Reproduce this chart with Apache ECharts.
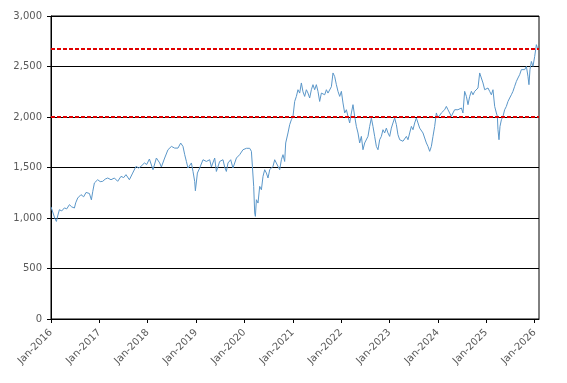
<!DOCTYPE html>
<html>
<head>
<meta charset="utf-8">
<script src="https://cdn.jsdelivr.net/npm/echarts@6/dist/echarts.min.js"></script>
<style>html,body{margin:0;padding:0;background:#fff}#c{width:567px;height:383px}</style>
</head>
<body>
<div id="c"></div>
<script>
// x = months since Jan-2016
var months = [0,0.42,0.92,1.34,1.66,2.08,2.66,3.33,3.90,4.57,5.14,5.81,6.13,6.63,7.44,8.11,8.69,9.53,10.02,10.35,10.77,11.59,12.21,12.83,13.45,14.07,14.89,15.73,16.55,17.37,18.04,18.61,19.45,20.27,21.09,21.76,22.33,23.18,23.75,24.42,24.91,25.31,26.15,26.97,27.39,28.21,29.03,29.88,30.69,31.51,32.18,32.75,33.18,33.60,33.99,34.84,35.24,35.66,35.83,36.33,36.90,37.72,38.56,39.38,39.80,40.62,41.04,41.86,42.68,43.10,43.52,43.92,44.59,45.16,46.01,46.82,47.64,48.49,49.31,49.73,49.98,50.30,50.55,50.72,50.97,51.37,51.79,52.21,52.61,53.03,53.45,53.85,54.27,55.09,55.51,55.93,56.75,57.17,57.57,57.99,58.24,58.81,59.23,59.65,60.05,60.47,60.89,61.29,61.71,62.13,62.53,62.95,63.37,63.77,64.19,64.61,65.01,65.43,65.85,66.25,66.67,67.10,67.49,67.92,68.34,68.73,69.16,69.58,69.98,70.40,70.82,71.22,71.64,72.06,72.46,72.88,73.30,73.70,74.12,74.54,74.94,75.36,75.78,76.18,76.60,77.02,77.42,77.84,78.26,78.66,79.08,79.50,79.90,80.32,80.74,81.14,81.56,81.98,82.38,82.80,83.22,83.62,84.04,84.46,84.86,85.28,85.71,86.10,86.53,86.95,87.34,87.77,88.19,88.59,89.01,89.43,89.83,90.25,90.67,91.07,91.49,91.91,92.31,92.73,93.15,93.55,93.97,94.39,94.79,95.21,95.63,96.03,96.45,96.87,97.27,97.69,98.11,98.51,98.93,99.35,99.75,100.17,100.60,100.99,101.41,101.84,102.23,102.65,103.08,103.48,103.90,104.32,104.72,105.14,105.56,105.96,106.38,106.80,107.20,107.62,108.04,108.44,108.86,109.28,109.68,110.10,110.52,110.77,110.92,111.17,111.42,111.77,112.16,112.58,113.00,113.40,113.82,114.24,114.64,115.06,115.49,115.88,116.30,116.73,117.12,117.55,117.97,118.36,118.61,118.86,119.21,119.60,120.03,120.45,120.85];
var values = [1110,1060,1000,966,1020,1082,1070,1100,1090,1132,1110,1099,1150,1198,1231,1210,1253,1243,1180,1260,1347,1379,1360,1363,1385,1396,1379,1396,1363,1412,1400,1429,1379,1445,1511,1495,1511,1545,1530,1584,1594,1478,1594,1545,1505,1594,1676,1709,1692,1692,1742,1709,1627,1560,1495,1545,1461,1362,1270,1445,1495,1577,1560,1577,1505,1594,1461,1560,1577,1505,1461,1545,1577,1495,1594,1627,1676,1690,1690,1660,1511,1313,1050,1016,1181,1148,1313,1280,1412,1478,1445,1396,1478,1511,1577,1560,1478,1577,1627,1560,1743,1842,1924,1973,2006,2154,2204,2270,2237,2337,2250,2204,2270,2237,2188,2270,2320,2270,2320,2254,2154,2237,2254,2220,2270,2237,2220,2300,2436,2400,2320,2254,2204,2254,2139,2040,2072,2006,1941,2040,2122,2006,1907,1842,1743,1808,1676,1743,1760,1808,1907,1990,1907,1808,1709,1676,1775,1808,1874,1842,1890,1842,1808,1890,1941,1990,1924,1825,1775,1792,1760,1775,1808,1775,1842,1907,1874,1941,1990,1941,1890,1907,1842,1792,1743,1709,1660,1709,1808,1907,2040,1990,1973,2040,2056,2072,2105,2072,2089,2006,2040,2072,2089,2072,2056,2089,2040,2254,2204,2122,2204,2254,2220,2254,2237,2287,2436,2419,2337,2270,2254,2287,2254,2220,2270,2105,2040,2006,1874,1775,1907,1973,2006,2072,2105,2154,2188,2220,2254,2304,2353,2386,2419,2469,2485,2469,2501,2403,2320,2469,2550,2501,2600,2716,2666];
var refLines = [2675, 2000];
var yearTicks = [0,12,24,36,48,60,72,84,96,108,120];
var tickYears = ['2016','2017','2018','2019','2020','2021','2022','2023','2024','2025','2026'];

var n = Math.min(months.length, values.length);
var data = [];
for (var i = 0; i < n; i++) data.push([months[i], values[i]]);

var chart = echarts.init(document.getElementById('c'), null, {renderer: 'canvas'});
var font = 'DejaVu Sans';
chart.setOption({
  animation: false,
  backgroundColor: '#ffffff',
  grid: {left: 51, right: 28, top: 16, bottom: 64, show: true, borderColor: '#000', borderWidth: 1, backgroundColor: 'transparent'},
  xAxis: {
    type: 'value', min: 0, max: 121.1, interval: 12,
    axisLine: {show: true, lineStyle: {color: '#000', width: 1}},
    axisTick: {show: true, length: 4, lineStyle: {color: '#000'}, customValues: yearTicks},
    splitLine: {show: false},
    axisLabel: {
      customValues: yearTicks,
      rotate: 45, margin: 12, color: '#595959', fontFamily: font, fontSize: 10,
      formatter: function (v) {
        var k = yearTicks.indexOf(Math.round(v));
        if (Math.abs(v - Math.round(v)) > 1e-6 || k < 0) return '';
        return 'Jan-' + tickYears[k];
      }
    }
  },
  yAxis: {
    type: 'value', min: 0, max: 3000, interval: 500,
    axisLine: {show: true, lineStyle: {color: '#000', width: 1}},
    axisTick: {show: true, length: 4, lineStyle: {color: '#000'}},
    splitLine: {show: true, lineStyle: {color: '#000', width: 1}},
    axisLabel: {
      margin: 9, color: '#595959', fontFamily: font, fontSize: 10,
      formatter: function (v) { return v.toString().replace(/\B(?=(\d{3})+(?!\d))/g, ','); }
    }
  },
  series: [{
    type: 'line', data: data, showSymbol: false, symbol: 'none',
    lineStyle: {color: '#5b97c9', width: 1},
    markLine: {
      silent: true, symbol: 'none', label: {show: false},
      lineStyle: {color: '#e00000', width: 2, type: [4, 2]},
      data: refLines.map(function (v) { return {yAxis: v}; })
    }
  }]
});
</script>
</body>
</html>
